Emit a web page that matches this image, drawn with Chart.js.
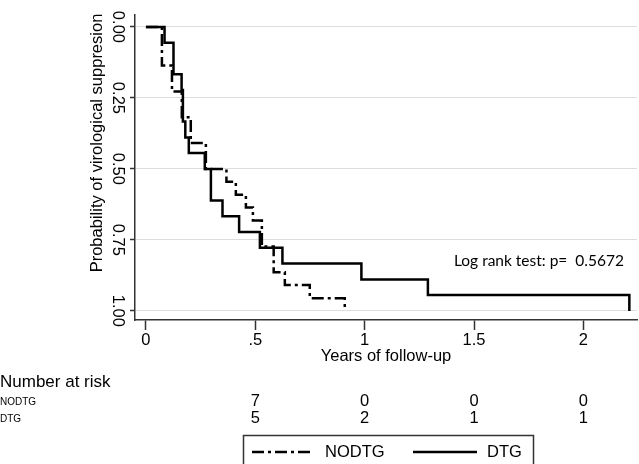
<!DOCTYPE html>
<html>
<head>
<meta charset="utf-8">
<script src="https://cdn.jsdelivr.net/npm/chart.js@4.4.0/dist/chart.umd.min.js"></script>
<style>
  html, body { margin: 0; padding: 0; background: #fff; }
  #wrap { width: 639px; height: 464px; }
</style>
</head>
<body>
<div id="wrap"><canvas id="km" width="639" height="464"></canvas></div>
<script>
// Kaplan-Meier steps: time of each event (years) and cumulative proportion after it
const nodtgTimes = [0, 0.073, 0.119, 0.164, 0.205, 0.274, 0.368, 0.411, 0.457, 0.489, 0.530, 0.584, 0.635, 0.749, 0.909];
const nodtgProb  = [0, 0.136, 0.227, 0.318, 0.409, 0.500, 0.545, 0.591, 0.636, 0.682, 0.773, 0.864, 0.909, 0.955, 1.000];
const dtgTimes = [0, 0.085, 0.126, 0.163, 0.169, 0.180, 0.196, 0.269, 0.297, 0.350, 0.426, 0.521, 0.624, 0.985, 1.289, 2.210];
const dtgProb  = [0, 0.056, 0.167, 0.222, 0.333, 0.389, 0.444, 0.500, 0.611, 0.667, 0.722, 0.778, 0.833, 0.889, 0.944, 1.000];

// axis ticks
const xTicks = [0, 0.5, 1, 1.5, 2];
const xTickLabels = ['0', '.5', '1', '1.5', '2'];
const yTicks = [0, 0.25, 0.5, 0.75, 1];
const yTickLabels = ['0.00', '0.25', '0.50', '0.75', '1.00'];

// number at risk table
const riskTimes = [0.5, 1, 1.5, 2];
const nodtgRisk = [7, 0, 0, 0];
const dtgRisk = [5, 2, 1, 1];

const yTitle = 'Probability of virological suppresion';
const logRankText = 'Log rank test: p=  0.5672';

const FONT = '"Liberation Sans", Arial, sans-serif';
const AXIS = '#333';

function toPoints(times, probs) {
  return times.map((t, i) => ({ x: t, y: probs[i] }));
}

// y title, risk table, p-value note and boxed legend
const extras = {
  id: 'extras',
  afterDraw(chart) {
    const { ctx, scales: { x, y } } = chart;
    ctx.save();
    ctx.fillStyle = '#000';
    ctx.textBaseline = 'middle';

    // vertical axis title sits a bit above the middle of the axis
    ctx.save();
    ctx.translate(97, 143);
    ctx.rotate(-Math.PI / 2);
    ctx.textAlign = 'center';
    ctx.font = '16.5px ' + FONT;
    ctx.fillText(yTitle, 0, 0);
    ctx.restore();

    ctx.font = '15.5px "Lato", sans-serif';
    ctx.textAlign = 'right';
    ctx.fillText(logRankText, x.getPixelForValue(2.185), y.getPixelForValue(0.825));

    ctx.textAlign = 'left';
    ctx.font = '17px ' + FONT;
    ctx.fillText('Number at risk', 0, 382);
    ctx.font = '10px ' + FONT;
    ctx.fillText('NODTG', 0, 402);
    ctx.fillText('DTG', 0, 419);

    ctx.font = '16.5px ' + FONT;
    ctx.textAlign = 'center';
    riskTimes.forEach((t, i) => {
      const px = x.getPixelForValue(t);
      ctx.fillText(String(nodtgRisk[i]), px, 401);
      ctx.fillText(String(dtgRisk[i]), px, 418);
    });

    // legend
    ctx.strokeStyle = AXIS;
    ctx.lineWidth = 1.5;
    ctx.strokeRect(243.5, 435.5, 290, 40);
    const ds = chart.data.datasets;
    const items = [
      { x0: 252, x1: 312, tx: 325, d: ds[0] },
      { x0: 413, x1: 477, tx: 487, d: ds[1] }
    ];
    ctx.textAlign = 'left';
    items.forEach(it => {
      ctx.beginPath();
      ctx.lineWidth = it.d.borderWidth;
      ctx.strokeStyle = it.d.borderColor;
      ctx.setLineDash(it.d.borderDash || []);
      ctx.moveTo(it.x0, 452);
      ctx.lineTo(it.x1, 452);
      ctx.stroke();
      ctx.setLineDash([]);
      ctx.fillText(it.d.label, it.tx, 452);
    });
    ctx.restore();
  }
};

new Chart(document.getElementById('km'), {
  type: 'line',
  data: {
    datasets: [
      {
        label: 'NODTG',
        data: toPoints(nodtgTimes, nodtgProb),
        stepped: 'before',
        borderColor: '#000',
        borderWidth: 2.5,
        borderDash: [12, 4, 3, 4],
        pointRadius: 0,
        fill: false
      },
      {
        label: 'DTG',
        data: toPoints(dtgTimes, dtgProb),
        stepped: 'before',
        borderColor: '#000',
        borderWidth: 2.5,
        pointRadius: 0,
        fill: false
      }
    ]
  },
  options: {
    responsive: false,
    animation: false,
    devicePixelRatio: 1,
    layout: { padding: { left: 0, top: 15, right: 2, bottom: 96 } },
    plugins: {
      legend: { display: false },
      tooltip: { enabled: false }
    },
    scales: {
      x: {
        type: 'linear',
        min: -0.05,
        max: 2.245,
        afterBuildTicks: s => { s.ticks = xTicks.map(v => ({ value: v })); },
        afterFit: s => { s.height = 48; },
        ticks: {
          callback: (v) => xTickLabels[xTicks.indexOf(v)],
          font: { family: FONT, size: 16.5 },
          color: '#000',
          padding: 1,
          maxRotation: 0
        },
        grid: { drawOnChartArea: false, tickLength: 10, tickColor: AXIS, tickWidth: 1.5 },
        border: { color: AXIS, width: 1.5 },
        title: {
          display: true,
          text: 'Years of follow-up',
          font: { family: FONT, size: 16.5 },
          color: '#000',
          padding: { top: 0, bottom: 2 }
        }
      },
      y: {
        type: 'linear',
        reverse: true,
        min: -0.042,
        max: 1.032,
        afterBuildTicks: s => { s.ticks = yTicks.map(v => ({ value: v })); },
        afterFit: s => { s.width = 135; },
        ticks: {
          callback: (v) => yTickLabels[yTicks.indexOf(v)],
          font: { family: FONT, size: 16.5 },
          color: '#000',
          minRotation: -90,
          crossAlign: 'center',
          padding: -4
        },
        grid: { color: '#dddddd', lineWidth: 1, tickLength: 5, tickColor: AXIS, tickWidth: 1.5 },
        border: { color: AXIS, width: 1.5 }
      }
    }
  },
  plugins: [extras]
});
</script>
</body>
</html>
